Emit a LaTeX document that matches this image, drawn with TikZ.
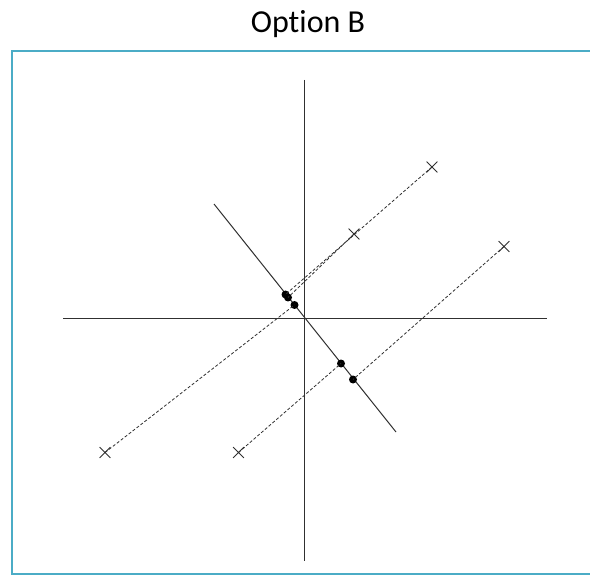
\documentclass[tikz,border=0pt]{standalone}
\usepackage{fontspec}
\setmainfont[Ligatures=NoCommon]{Carlito}
\usetikzlibrary{shapes.misc}
\definecolor{frame-teal}{HTML}{4BACC6}
\definecolor{line-grey}{HTML}{303030}

\tikzset{
  axisline/.style={line-grey, line width=1pt},
  projline/.style={line-grey, line width=0.8pt, dash pattern=on 3pt off 2pt},
  crossmark/.style={cross out, draw=line-grey, line width=0.8pt, minimum size=10pt, inner sep=0pt},
  dotmark/.style={circle, fill=black, minimum size=8pt, inner sep=0pt}
}

\begin{document}
\begin{tikzpicture}[x=1pt, y=-1pt]
      \useasboundingbox (0,0) rectangle (590,575);
      \fill[white] (0,0) rectangle (590,575);
      \begin{scope}
        \clip (0,0) rectangle (590,575);
        \draw[frame-teal, line width=2pt] (12,51.5) rectangle (600,573.5);
      \end{scope}
      \node[font=\fontsize{32}{36}\selectfont] (title) at (308,24) {Option B};
      % axes
      \coordinate (ytop) at (304,80);
      \coordinate (ybot) at (304,561);
      \coordinate (xleft) at (63,319);
      \coordinate (xright) at (547,319);
      \draw[axisline] (ytop) -- (ybot);
      \draw[axisline] (xleft) -- (xright);
      % line for the projection
      \coordinate (dstart) at (214,204);
      \coordinate (dend) at (396,432);
      \draw[axisline] (dstart) -- (dend);
      % data points
      \node[crossmark] (p1) at (432,167) {};
      \node[crossmark] (p2) at (354,234) {};
      \node[crossmark] (p3) at (504,246.5) {};
      \node[crossmark] (p4) at (105,452.5) {};
      \node[crossmark] (p5) at (238.5,452.5) {};
      % projected points
      \node[dotmark] (q1) at (285.5,294.5) {};
      \node[dotmark] (q2) at (288,297.5) {};
      \node[dotmark] (q4) at (294.5,305) {};
      \node[dotmark] (q5) at (341,363.5) {};
      \node[dotmark] (q3) at (353,379.5) {};
      \draw[projline] (p1.center) -- (q1.center);
      \draw[projline] (p2.center) -- (q2.center);
      \draw[projline] (p3.center) -- (q3.center);
      \draw[projline] (p4.center) -- (q4.center);
      \draw[projline] (p5.center) -- (q5.center);
    \end{tikzpicture}
\end{document}
